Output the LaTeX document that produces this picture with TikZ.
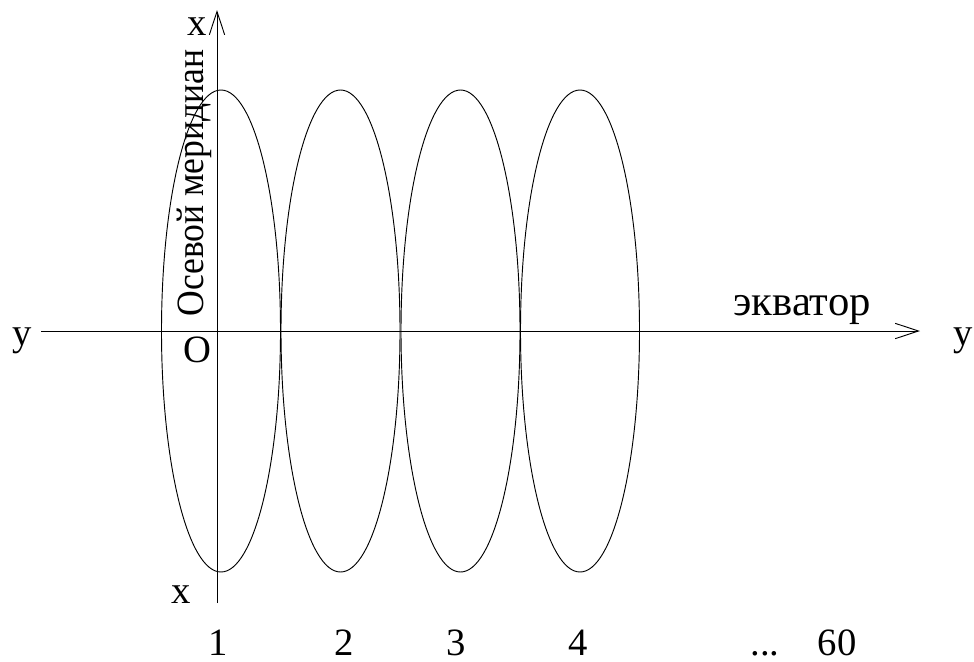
\documentclass[tikz,border=0pt]{standalone}
\usepackage{fontspec}
\setmainfont{Liberation Serif}
\usetikzlibrary{arrows.meta}
\begin{document}
\begin{tikzpicture}[x=0.75pt,y=-0.75pt,line width=0.7pt,
  lbl/.style={inner sep=0pt,font=\fontsize{29}{32}\selectfont},
  biglbl/.style={inner sep=0pt,font=\fontsize{32}{35}\selectfont},
  axisarrow/.style={-{Straight Barb[length=17.5pt,width=11.5pt,line width=0.7pt]}},
  zone/.style={draw}]
\useasboundingbox (0,0) rectangle (974,661);
% axes
\coordinate (vbot) at (217,603);
\coordinate (vtop) at (217,10);
\coordinate (hleft) at (41,331);
\coordinate (hright) at (920,331);
\draw[axisarrow] (vbot) -- (vtop);
\draw[axisarrow] (hleft) -- (hright);
% zones
\draw[zone] (221,331) ellipse [x radius=59.5, y radius=241];
\draw[zone] (340.5,331) ellipse [x radius=59.5, y radius=241];
\draw[zone] (460.5,331) ellipse [x radius=59.5, y radius=241];
\draw[zone] (580,331) ellipse [x radius=59.5, y radius=241];
% labels
\node[lbl,anchor=base] (xtop) at (197,35) {x};
\node[lbl,anchor=base] (xbot) at (181,603) {x};
\node[lbl,anchor=base] (yleft) at (22,345) {y};
\node[lbl,anchor=base] (yright) at (963,345) {y};
\node[lbl,anchor=base] (orig) at (197,362) {O};
\node[biglbl,anchor=base west] (eq) at (733,315) {экватор};
\node[lbl,anchor=base west,rotate=90] (mer) at (203,317) {\scalebox{0.92}[1]{Осевой меридиан}};
\node[lbl,anchor=base] (n1) at (218,655) {1};
\node[lbl,anchor=base] (n2) at (344,655) {2};
\node[lbl,anchor=base] (n3) at (456,655) {3};
\node[lbl,anchor=base] (n4) at (578,655) {4};
\node[lbl,anchor=base] (dots) at (765,655) {...};
\node[lbl,anchor=base] (n60) at (837,655) {60};
\end{tikzpicture}
\end{document}
